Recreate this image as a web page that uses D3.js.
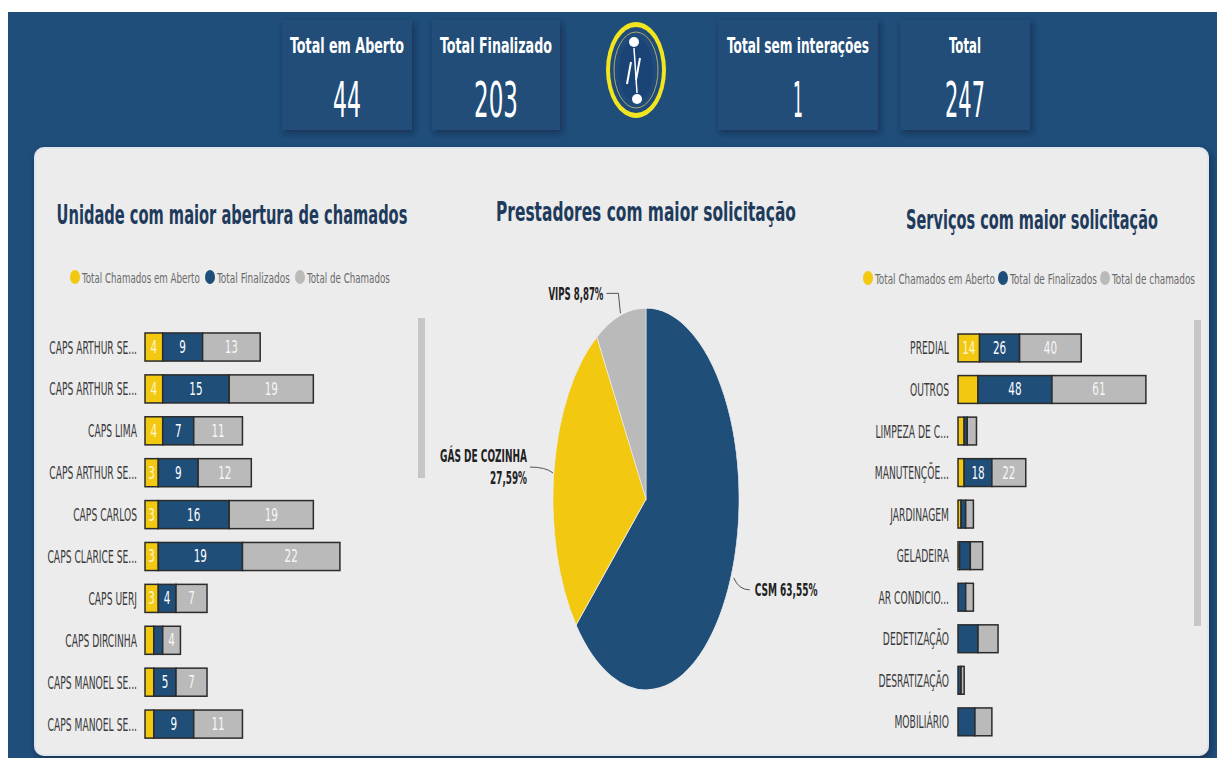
<!DOCTYPE html>
<html>
<head>
<meta charset="utf-8">
<script src="https://cdn.jsdelivr.net/npm/d3@7"></script>
<style>
  html, body { margin: 0; padding: 0; background: #fff; }
  svg { display: block; }
</style>
</head>
<body>
<div id="chart"></div>
<script>
// KPI cards
const kpiLabels = ["Total em Aberto", "Total Finalizado", "Total sem interações", "Total"];
const kpiValues = [44, 203, 1, 247];

// left: unidades
const unidades = ["CAPS ARTHUR SE...", "CAPS ARTHUR SE...", "CAPS LIMA", "CAPS ARTHUR SE...", "CAPS CARLOS",
  "CAPS CLARICE SE...", "CAPS UERJ", "CAPS DIRCINHA", "CAPS MANOEL SE...", "CAPS MANOEL SE..."];
const unidAberto = [4, 4, 4, 3, 3, 3, 3, 2, 2, 2];
const unidFinal = [9, 15, 7, 9, 16, 19, 4, 2, 5, 9];
const unidTotal = [13, 19, 11, 12, 19, 22, 7, 4, 7, 11];
const legendUnid = ["Total Chamados em Aberto", "Total Finalizados", "Total de Chamados"];

// middle: prestadores
const prestadores = ["CSM", "GÁS DE COZINHA", "VIPS"];
const prestPct = [63.55, 27.59, 8.87];

// right: servicos
const servicos = ["PREDIAL", "OUTROS", "LIMPEZA DE C...", "MANUTENÇÕE...", "JARDINAGEM", "GELADEIRA",
  "AR CONDICIO...", "DEDETIZAÇÃO", "DESRATIZAÇÃO", "MOBILIÁRIO"];
const servAberto = [14, 13, 4, 4, 2, 1, 0, 0, 0, 0];
const servFinal = [26, 48, 2, 18, 3, 7, 5, 13, 2, 11];
const servTotal = [40, 61, 6, 22, 5, 8, 5, 13, 2, 11];
const legendServ = ["Total Chamados em Aberto", "Total de Finalizados", "Total de chamados"];

const W = 1217, H = 758;
const FONT = "'DejaVu Sans Condensed','Liberation Sans Narrow',sans-serif";
const BLUE = "#1f4e79", YELLOW = "#f2c811", GRAY = "#bababa", NAVY = "#1f3b5c";
const colors = [YELLOW, BLUE, GRAY];

const svg = d3.select("#chart").append("svg")
  .attr("width", W).attr("height", H)
  .style("font-family", FONT);

// squeeze a text horizontally around its x anchor so it is w px wide
function squeeze(t, w) {
  const n = t.node().getComputedTextLength();
  const x = +t.attr("x");
  t.attr("transform", `translate(${x},0) scale(${w / n},1) translate(${-x},0)`);
  return t;
}
function squeezeBy(t, k) {
  return squeeze(t, t.node().getComputedTextLength() * k);
}

const defs = svg.append("defs");
const sh = defs.append("filter").attr("id", "shadow").attr("x", "-20%").attr("y", "-20%").attr("width", "150%").attr("height", "150%");
sh.append("feDropShadow").attr("dx", 2).attr("dy", 3).attr("stdDeviation", 3)
  .attr("flood-color", "#08203a").attr("flood-opacity", 0.6);

// background
svg.append("rect").attr("x", 8).attr("y", 12).attr("width", W - 8).attr("height", H - 12).attr("fill", "#1f4e7a");
svg.append("rect").attr("x", 35).attr("y", 148).attr("width", 1173).attr("height", 607)
  .attr("rx", 9).attr("fill", "#ececec").attr("stroke", "#dfe6ee").attr("stroke-width", 2)
  .attr("filter", "url(#shadow)");

// KPI cards
const cardX = [282, 432, 718, 900];
const cardW = [130, 128, 160, 130];
const kpiLabW = [114, 112, 142, 32];
const kpiValW = [28, 44, 10, 40];
kpiLabels.forEach((lab, i) => {
  const cx0 = cardX[i] + cardW[i] / 2;
  svg.append("rect").attr("x", cardX[i]).attr("y", 20).attr("width", cardW[i]).attr("height", 110)
    .attr("fill", "#214d78").attr("filter", "url(#shadow)");
  squeeze(svg.append("text").attr("x", cx0).attr("y", 53).attr("text-anchor", "middle")
    .attr("fill", "#fff").attr("font-weight", "bold").attr("font-size", 22).text(lab), kpiLabW[i]);
  squeeze(svg.append("text").attr("x", cx0).attr("y", 117).attr("text-anchor", "middle")
    .attr("fill", "#fff").attr("font-size", 49).text(kpiValues[i]), kpiValW[i]);
});

// logo
const logo = svg.append("g").attr("transform", "translate(636,70)");
logo.append("ellipse").attr("rx", 30).attr("ry", 48).attr("fill", "#f1e51f");
logo.append("ellipse").attr("rx", 26).attr("ry", 43).attr("fill", "#1f4a7a");
logo.append("ellipse").attr("rx", 22).attr("ry", 38).attr("fill", "none").attr("stroke", "#c9c56a").attr("stroke-width", 0.8);
logo.append("ellipse").attr("rx", 17).attr("ry", 32).attr("fill", "#1b4476");
logo.append("circle").attr("cx", -2).attr("cy", -28).attr("r", 5).attr("fill", "#fff");
logo.append("circle").attr("cx", 1).attr("cy", 29).attr("r", 5).attr("fill", "#fff");
logo.append("line").attr("x1", -2).attr("y1", -22).attr("x2", 1).attr("y2", 23).attr("stroke", "#fff").attr("stroke-width", 1.5);
logo.append("line").attr("x1", -5).attr("y1", -8).attr("x2", -9).attr("y2", 14).attr("stroke", "#fff").attr("stroke-width", 2);
logo.append("line").attr("x1", 4).attr("y1", -12).attr("x2", 0).attr("y2", 10).attr("stroke", "#fff").attr("stroke-width", 2);

// titles
const titles = [
  { t: "Unidade com maior abertura de chamados", x: 232, y: 224, w: 351 },
  { t: "Prestadores com maior solicitação", x: 646, y: 221, w: 300 },
  { t: "Serviços com maior solicitação", x: 1032, y: 229, w: 252 }
];
titles.forEach(d => {
  squeeze(svg.append("text").attr("x", d.x).attr("y", d.y).attr("text-anchor", "middle")
    .attr("fill", NAVY).attr("font-weight", "bold").attr("font-size", 27).text(d.t), d.w);
});

// legends
function legend(labels, x0, y, widths, gap) {
  let x = x0;
  labels.forEach((lab, i) => {
    svg.append("ellipse").attr("cx", x).attr("cy", y - 6).attr("rx", 5).attr("ry", 7).attr("fill", colors[i]);
    squeeze(svg.append("text").attr("x", x + 7).attr("y", y).attr("fill", "#6a6a6a").attr("font-size", 14).text(lab), widths[i]);
    x += 7 + widths[i] + gap;
  });
}
legend(legendUnid, 75, 283, [118, 73, 83], 10);
legend(legendServ, 868, 284, [120, 87, 83], 8);

// width factor so category labels look as narrow as the reference
const CAT_FS = 18;
const probe = svg.append("text").attr("font-size", CAT_FS).text("CAPS LIMA");
const catK = 49 / probe.node().getComputedTextLength();
probe.remove();

// stacked bars
function barChart(cats, aberto, fin, total, x0, xMax, pxPerUnit, yRange, labelX) {
  const rows = cats.map((c, i) => ({ i, c, aberto: aberto[i], fin: fin[i], total: total[i] }));
  const keys = ["aberto", "fin", "total"];
  const series = d3.stack().keys(keys)(rows);
  const x = d3.scaleLinear().domain([0, xMax]).range([x0, x0 + xMax * pxPerUnit]);
  const y = d3.scaleBand().domain(rows.map(r => r.i)).range(yRange).paddingInner(0.33).paddingOuter(0.15);

  svg.append("g").selectAll("text").data(rows).join("text")
    .attr("x", labelX).attr("y", r => y(r.i) + y.bandwidth() / 2 + 6.5)
    .attr("text-anchor", "end").attr("fill", "#3a3a3a").attr("font-size", CAT_FS)
    .text(r => r.c)
    .each(function () { squeezeBy(d3.select(this), catK); });

  series.forEach((s, k) => {
    const g = svg.append("g");
    g.selectAll("rect").data(s).join("rect")
      .attr("x", d => x(d[0])).attr("y", d => y(d.data.i))
      .attr("width", d => Math.max(0, x(d[1]) - x(d[0]))).attr("height", y.bandwidth())
      .attr("fill", colors[k]).attr("stroke", "#2b2b2b").attr("stroke-width", 1.5);
    g.selectAll("text").data(s.filter(d => {
        const v = d[1] - d[0], w = x(d[1]) - x(d[0]);
        return v > 0 && w >= String(v).length * 8.2 + 4.6;
      })).join("text")
      .attr("x", d => (x(d[0]) + x(d[1])) / 2).attr("y", d => y(d.data.i) + y.bandwidth() / 2 + 6)
      .attr("text-anchor", "middle").attr("font-size", 17)
      .attr("fill", k === 0 ? "#fff6d0" : k === 1 ? "#ffffff" : "#f6f6f6")
      .text(d => d[1] - d[0])
      .each(function () { squeezeBy(d3.select(this), 0.68); });
  });
}
barChart(unidades, unidAberto, unidFinal, unidTotal, 145, 60, 4.43, [326.7, 744.4], 137);
barChart(servicos, servAberto, servFinal, servTotal, 958, 150, 1.54, [327.8, 742], 949);

// scrollbars
svg.append("rect").attr("x", 418).attr("y", 318).attr("width", 7).attr("height", 160).attr("fill", "#c6c6c6");
svg.append("rect").attr("x", 1194).attr("y", 320).attr("width", 7).attr("height", 306).attr("fill", "#c6c6c6");

// pie (ellipse due to squashed screenshot)
const cx = 646, cy = 499, rx = 93, ry = 191;
const pieData = prestadores.map((p, i) => ({ p, v: prestPct[i] }));
const arcs = d3.pie().sort(null).value(d => d.v)(pieData);
const arc = d3.arc().innerRadius(0).outerRadius(ry);
const pie = svg.append("g").attr("transform", `translate(${cx},${cy}) scale(${rx / ry},1)`);
pie.selectAll("path").data(arcs).join("path")
  .attr("d", arc).attr("fill", (d, i) => [BLUE, YELLOW, GRAY][i])
  .attr("stroke", "#ececec").attr("stroke-width", 1.2);

// pie labels with leader lines
const fmt = v => d3.format(".2f")(v).replace(".", ",") + "%";
const leader = svg.append("g").attr("fill", "none").attr("stroke", "#555").attr("stroke-width", 1);
function pt(a) { return [cx + Math.sin(a) * rx, cy - Math.cos(a) * ry]; }
function pieLabel(x, y, txt, w, anchor) {
  return squeeze(svg.append("text").attr("x", x).attr("y", y).attr("text-anchor", anchor)
    .attr("font-size", 18).attr("font-weight", "bold").attr("fill", "#222").text(txt), w);
}
arcs.forEach((d, i) => {
  const p = pt((d.startAngle + d.endAngle) / 2);
  if (i === 0) {
    leader.append("path").attr("d", `M${p[0] + 3},${p[1]} Q${p[0] + 8},${p[1] + 12} ${p[0] + 19},${p[1] + 12}`);
    pieLabel(p[0] + 24, p[1] + 18, `${d.data.p} ${fmt(d.data.v)}`, 63, "start");
  } else if (i === 1) {
    leader.append("path").attr("d", `M${p[0] - 1},${p[1] + 2} Q${p[0] - 8},${p[1] - 4} ${p[0] - 24},${p[1] - 4}`);
    pieLabel(p[0] - 27, p[1] - 9, d.data.p, 87, "end");
    pieLabel(p[0] - 27, p[1] + 13, fmt(d.data.v), 37, "end");
  } else {
    leader.append("path").attr("d", `M${p[0]},${p[1] - 2} L${p[0] - 2},${p[1] - 22} L${p[0] - 14},${p[1] - 22}`);
    pieLabel(p[0] - 17, p[1] - 15, `${d.data.p} ${fmt(d.data.v)}`, 55, "end");
  }
});
</script>
</body>
</html>
